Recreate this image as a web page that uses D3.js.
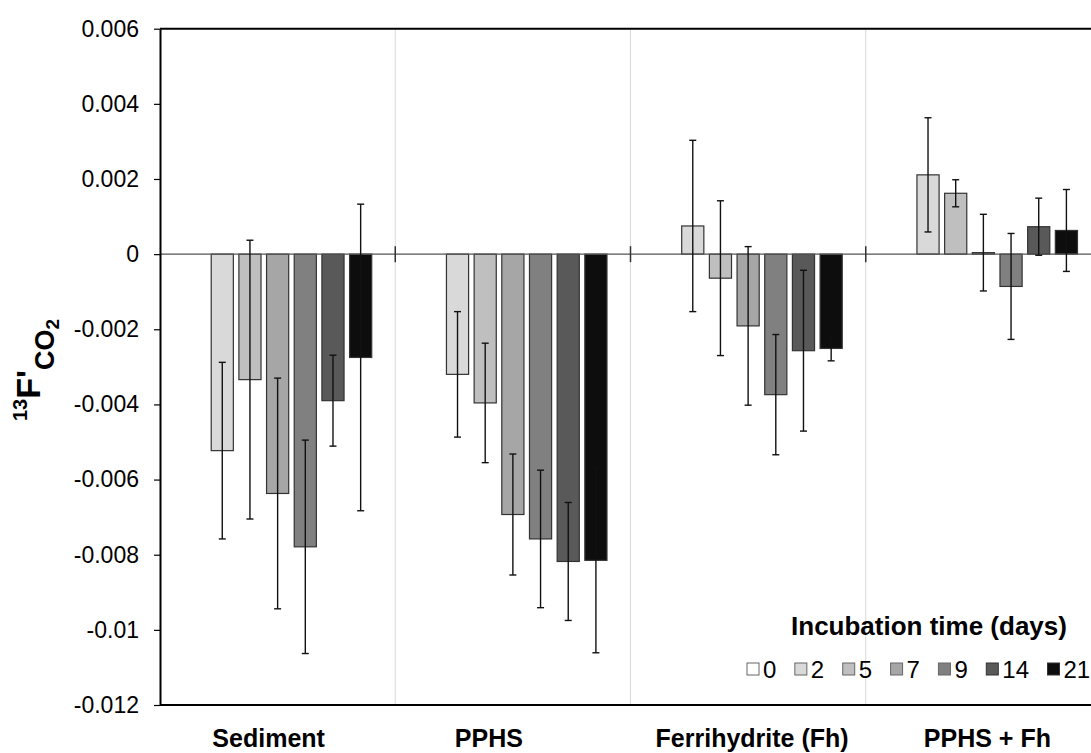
<!DOCTYPE html>
<html>
<head>
<meta charset="utf-8">
<script src="https://cdn.jsdelivr.net/npm/d3@7"></script>
<style>
  body { margin: 0; background: #fff; }
  svg { display: block; font-family: "Liberation Sans", Arial, sans-serif; }
</style>
</head>
<body>
<svg id="chart" width="1091" height="753"></svg>
<script>
// treatments on the x axis, incubation days as series
var categories = ["Sediment", "PPHS", "Ferrihydrite (Fh)", "PPHS + Fh"];
var days = ["0", "2", "5", "7", "9", "14", "21"];
var dayColors = ["#ffffff", "#d9d9d9", "#bfbfbf", "#a6a6a6", "#808080", "#595959", "#0d0d0d"];

// mean and error per day (day 0 has no bar)
var sediment    = [null, -0.00523, -0.00334, -0.00637, -0.00779, -0.00390, -0.00275];
var sedimentErr = [null,  0.00235,  0.00371,  0.00307,  0.00284,  0.00121,  0.00408];
var pphs        = [null, -0.00320, -0.00396, -0.00693, -0.00758, -0.00818, -0.00815];
var pphsErr     = [null,  0.00167,  0.00159,  0.00161,  0.00183,  0.00157,  0.00246];
var ferri       = [null,  0.00075, -0.00064, -0.00191, -0.00374, -0.00257, -0.00251];
var ferriErr    = [null,  0.00228,  0.00206,  0.00211,  0.00160,  0.00214,  0.00033];
var pphsFh      = [null,  0.00211,  0.00162,  0.00004, -0.00086,  0.00073,  0.00063];
var pphsFhErr   = [null,  0.00152,  0.00036,  0.00102,  0.00141,  0.00076,  0.00109];

var yTicks = [-0.012, -0.01, -0.008, -0.006, -0.004, -0.002, 0, 0.002, 0.004, 0.006];

(function() {
  var means = [sediment, pphs, ferri, pphsFh];
  var errs = [sedimentErr, pphsErr, ferriErr, pphsFhErr];

  var svg = d3.select("#chart");

  var mLeft = 160, mRight = 1101, mTop = 28.7, mBottom = 705;

  var x0 = d3.scaleBand()
      .domain(categories)
      .range([mLeft, mRight]);

  var x1 = d3.scaleBand()
      .domain(days)
      .range([0, x0.bandwidth()])
      .paddingInner(0.2)
      .paddingOuter(0.85);

  var y = d3.scaleLinear()
      .domain([-0.012, 0.006])
      .range([mBottom, mTop]);

  // light separators between categories
  svg.append("g")
    .selectAll("line")
    .data(categories.slice(1))
    .enter().append("line")
      .attr("x1", function(d) { return x0(d); })
      .attr("x2", function(d) { return x0(d); })
      .attr("y1", mTop)
      .attr("y2", mBottom)
      .attr("stroke", "#d9d9d9")
      .attr("stroke-width", 1);

  // flatten into one list of bars
  var rows = [];
  categories.forEach(function(c, ci) {
    days.forEach(function(d, di) {
      if (means[ci][di] !== null) {
        rows.push({cat: c, day: d, i: di, v: means[ci][di], e: errs[ci][di]});
      }
    });
  });

  svg.append("g")
    .selectAll("rect")
    .data(rows)
    .enter().append("rect")
      .attr("x", function(d) { return x0(d.cat) + x1(d.day); })
      .attr("width", x1.bandwidth())
      .attr("y", function(d) { return y(Math.max(0, d.v)); })
      .attr("height", function(d) { return Math.max(1.5, Math.abs(y(d.v) - y(0))); })
      .attr("fill", function(d) { return dayColors[d.i]; })
      .attr("stroke", "#333")
      .attr("stroke-width", 1.2);

  // zero line with category ticks
  svg.append("line")
      .attr("x1", mLeft).attr("x2", mRight)
      .attr("y1", y(0)).attr("y2", y(0))
      .attr("stroke", "#555")
      .attr("stroke-width", 1.2);

  svg.append("g")
    .selectAll("line")
    .data(categories.slice(1))
    .enter().append("line")
      .attr("x1", function(d) { return x0(d); })
      .attr("x2", function(d) { return x0(d); })
      .attr("y1", y(0) - 8)
      .attr("y2", y(0) + 8)
      .attr("stroke", "#333")
      .attr("stroke-width", 1.5);

  // error bars
  var eb = svg.append("g")
    .selectAll("g")
    .data(rows)
    .enter().append("g")
      .attr("stroke", "#111")
      .attr("stroke-width", 1.4);

  function cx(d) { return x0(d.cat) + x1(d.day) + x1.bandwidth() / 2; }

  eb.append("line")
      .attr("x1", cx).attr("x2", cx)
      .attr("y1", function(d) { return y(d.v + d.e); })
      .attr("y2", function(d) { return y(d.v - d.e); });

  eb.append("line")
      .attr("x1", function(d) { return cx(d) - 3.5; })
      .attr("x2", function(d) { return cx(d) + 3.5; })
      .attr("y1", function(d) { return y(d.v + d.e); })
      .attr("y2", function(d) { return y(d.v + d.e); });

  eb.append("line")
      .attr("x1", function(d) { return cx(d) - 3.5; })
      .attr("x2", function(d) { return cx(d) + 3.5; })
      .attr("y1", function(d) { return y(d.v - d.e); })
      .attr("y2", function(d) { return y(d.v - d.e); });

  // frame: top and bottom lines
  svg.append("line")
      .attr("x1", mLeft).attr("x2", mRight)
      .attr("y1", mTop).attr("y2", mTop)
      .attr("stroke", "#000").attr("stroke-width", 2);
  svg.append("line")
      .attr("x1", mLeft).attr("x2", mRight)
      .attr("y1", mBottom).attr("y2", mBottom)
      .attr("stroke", "#000").attr("stroke-width", 2);

  // y axis
  var yAxis = svg.append("g")
      .attr("transform", "translate(" + mLeft + ",0)")
      .call(d3.axisLeft(y)
        .tickValues(yTicks)
        .tickSize(6)
        .tickSizeOuter(0)
        .tickPadding(15)
        .tickFormat(function(d) { return String(+d.toFixed(3)); }));

  yAxis.select(".domain").attr("stroke", "#000").attr("stroke-width", 2);
  yAxis.selectAll(".tick line").attr("stroke", "#000").attr("stroke-width", 1.2);
  yAxis.selectAll(".tick text")
      .attr("fill", "#000")
      .style("font-size", "23px")
      .style("font-family", "'Liberation Sans', Arial, sans-serif");

  // category labels (hand placed in the original, small shifts)
  var labelShift = [-9, -24, 4, 4];
  svg.append("g")
    .selectAll("text")
    .data(categories)
    .enter().append("text")
      .attr("x", function(d, i) { return x0(d) + x0.bandwidth() / 2 + labelShift[i]; })
      .attr("y", 747)
      .attr("text-anchor", "middle")
      .style("font-size", "25px")
      .style("font-weight", "bold")
      .text(function(d) { return d; });

  // y axis title: 13F'CO2
  var yt = svg.append("text")
      .attr("transform", "rotate(-90)")
      .attr("x", -421)
      .attr("y", 40)
      .style("font-weight", "bold");
  yt.append("tspan").attr("dy", -13).style("font-size", "20px").text("13");
  yt.append("tspan").attr("dy", 13).style("font-size", "34px").text("F'");
  yt.append("tspan").attr("dy", 14).style("font-size", "27px").text("CO");
  yt.append("tspan").attr("dy", 5).style("font-size", "19px").text("2");

  // legend
  svg.append("text")
      .attr("x", 929)
      .attr("y", 635)
      .attr("text-anchor", "middle")
      .style("font-size", "26px")
      .style("font-weight", "bold")
      .text("Incubation time (days)");

  var lg = svg.append("g");
  var lx = 747, ly = 669;
  days.forEach(function(d, i) {
    lg.append("rect")
        .attr("x", lx).attr("y", ly - 6)
        .attr("width", 12).attr("height", 12)
        .attr("fill", dayColors[i])
        .attr("stroke", i >= 5 ? "#333" : "#666")
        .attr("stroke-width", 1);
    var t = lg.append("text")
        .attr("x", lx + 16)
        .attr("y", ly + 8.5)
        .style("font-size", "24px")
        .text(d);
    lx += 16 + t.node().getComputedTextLength() + 18.5;
  });
})();
</script>
</body>
</html>
